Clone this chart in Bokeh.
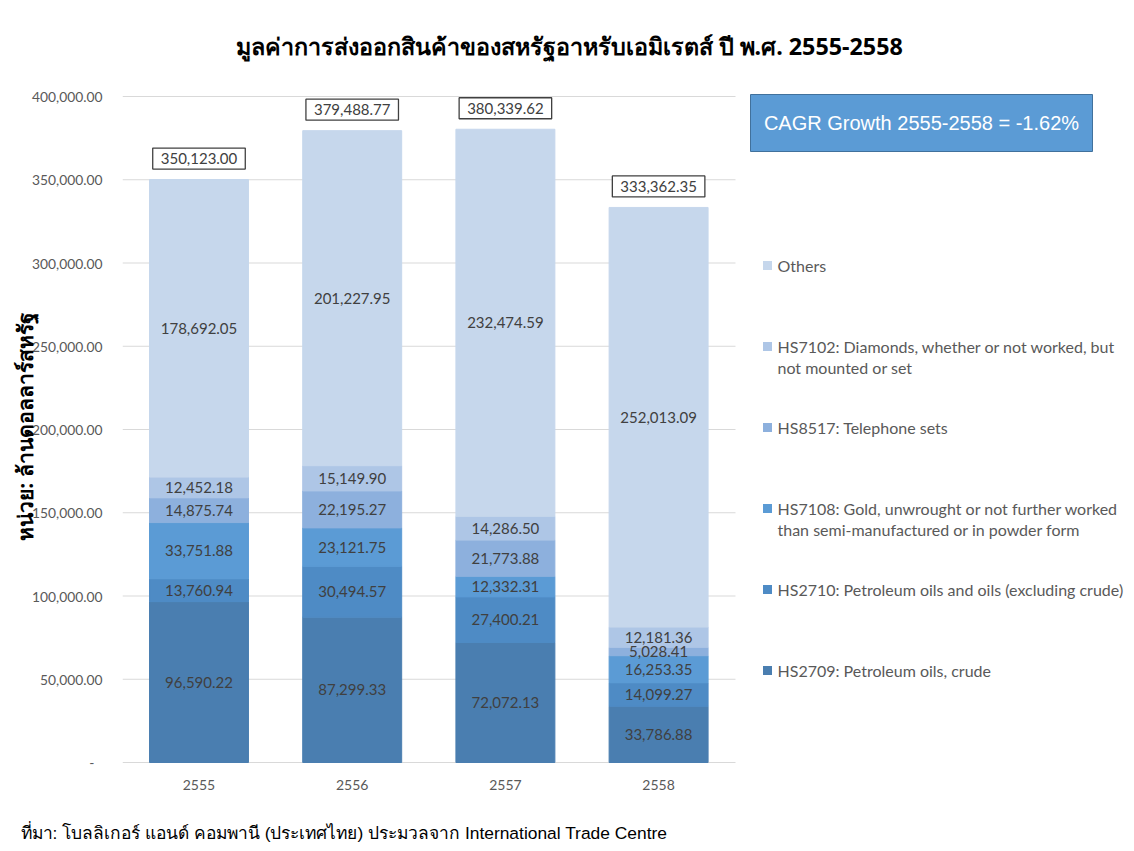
from bokeh.plotting import figure
from bokeh.models import Range1d, FixedTicker, NumeralTickFormatter, Title, ColumnDataSource
from bokeh.core.properties import value
from bokeh.embed import file_html
from bokeh.resources import INLINE

# ---------------- data ----------------
years = ["2555", "2556", "2557", "2558"]
series = [
    "HS2709: Petroleum oils, crude",
    "HS2710: Petroleum oils and oils (excluding crude)",
    "HS7108: Gold, unwrought or not further worked\nthan semi-manufactured or in powder form",
    "HS8517: Telephone sets",
    "HS7102: Diamonds, whether or not worked, but\nnot mounted or set",
    "Others",
]
hs2709 = [96590.22, 87299.33, 72072.13, 33786.88]
hs2710 = [13760.94, 30494.57, 27400.21, 14099.27]
hs7108 = [33751.88, 23121.75, 12332.31, 16253.35]
hs8517 = [14875.74, 22195.27, 21773.88, 5028.41]
hs7102 = [12452.18, 15149.90, 14286.50, 12181.36]
others = [178692.05, 201227.95, 232474.59, 252013.09]
totals = [350123.00, 379488.77, 380339.62, 333362.35]
y_ticks = [0, 50000, 100000, 150000, 200000, 250000, 300000, 350000, 400000]
title_text = "มูลค่าการส่งออกสินค้าของสหรัฐอาหรับเอมิเรตส์ ปี พ.ศ. 2555-2558"
y_label = "หน่วย: ล้านดอลลาร์สหรัฐ"
source_text = "ที่มา: โบลลิเกอร์ แอนด์ คอมพานี (ประเทศไทย) ประมวลจาก International Trade Centre"
cagr_text = "CAGR Growth 2555-2558 = -1.62%"

colors = ["#4A7EB0", "#4E8BC5", "#5B9BD5", "#8DB0DD", "#AEC6E6", "#C6D7EC"]
values = [hs2709, hs2710, hs7108, hs8517, hs7102, others]
keys = ["s0", "s1", "s2", "s3", "s4", "s5"]

# ---------------- layout helpers (page px -> data) ----------------
PX0, PXU = 198.5, 153.2
PY0, PYU = 762.0, 666.0 / 400000.0
def dx(px): return (px - PX0) / PXU
def dy(py): return (PY0 - py) / PYU

W, H = 1134, 851
FL, FR, FT, FB = 122, 1126, 88, 764
p = figure(width=W, height=H, output_backend="svg", toolbar_location=None,
           x_range=Range1d(dx(FL), dx(FR)), y_range=Range1d(dy(FB), dy(FT)),
           min_border_left=FL, min_border_right=W - FR, min_border_top=FT, min_border_bottom=H - FB)
p.outline_line_color = None
p.background_fill_color = "white"
p.border_fill_color = "white"
p.xgrid.visible = False
p.ygrid.visible = False

xs = list(range(len(years)))

# gridlines limited to plot area
p.segment(x0=[dx(122)] * len(y_ticks), x1=[dx(735)] * len(y_ticks), y0=y_ticks, y1=y_ticks,
          line_color="#D9D9D9", line_width=1)

# stacked bars
data = {"x": xs}
for k, v in zip(keys, values):
    data[k] = v
src = ColumnDataSource(data)
p.vbar_stack(keys, x="x", width=0.646, color=colors, source=src)

# segment labels
lx, ly, lt = [], [], []
for i in xs:
    base = 0.0
    for v in values:
        lx.append(i)
        ly.append(base + v[i] / 2)
        lt.append(f"{v[i]:,.2f}")
        base += v[i]
p.text(x=lx, y=ly, text=lt, text_align="center", text_baseline="middle",
       text_font=value("Lato"), text_font_size="15px", text_color="#404040")

# totals (boxed)
off = 21 / PYU
p.text(x=xs, y=[t + off for t in totals], text=[f"{t:,.2f}" for t in totals],
       text_align="center", text_baseline="middle", text_font=value("Lato"),
       text_font_size="15px", text_color="#404040",
       background_fill_color="white", border_line_color="#404040", border_line_width=1.3,
       padding=dict(left=8, right=8, top=5, bottom=5))

# CAGR box
p.quad(left=[dx(750)], right=[dx(1092)], top=[dy(94)], bottom=[dy(151)],
       fill_color="#5B9BD5", line_color="#41719C", line_width=1)
p.text(x=[dx(921)], y=[dy(122)], text=[cagr_text], text_align="center", text_baseline="middle",
       text_font=value("Liberation Sans"), text_font_size="20px", text_color="white")

# legend (Others on top)
order = list(range(len(series)))[::-1]
sq_x, sq_y, sq_c, tx, ty, tt = [], [], [], [], [], []
for k, i in enumerate(order):
    first = 265 + 81 * k
    nl = series[i].count("\n") + 1
    sq_x.append(dx(767)); sq_y.append(dy(first)); sq_c.append(colors[i])
    tx.append(dx(777)); ty.append(dy(first + 10.5 * (nl - 1))); tt.append(series[i])
p.scatter(x=sq_x, y=sq_y, marker="square", size=9, fill_color=sq_c, line_color=None)
p.text(x=tx, y=ty, text=tt, text_align="left", text_baseline="middle",
       text_font=value("Lato"), text_font_size="16px", text_color="#595959",
       text_line_height=1.1)

# axes
p.xaxis.ticker = FixedTicker(ticks=xs)
p.xaxis.major_label_overrides = {i: y for i, y in enumerate(years)}
p.xaxis.axis_line_color = None
p.xaxis.major_tick_line_color = None
p.xaxis.minor_tick_line_color = None
p.xaxis.major_label_standoff = 9
p.xaxis.major_label_text_font = "Lato"
p.xaxis.major_label_text_font_size = "14px"
p.xaxis.major_label_text_color = "#595959"

p.yaxis.ticker = FixedTicker(ticks=y_ticks)
p.yaxis.formatter = NumeralTickFormatter(format="0,0.00")
p.yaxis.major_label_overrides = {0: "-\u2007"}
p.yaxis.axis_line_color = None
p.yaxis.major_tick_line_color = None
p.yaxis.minor_tick_line_color = None
p.yaxis.major_label_standoff = 14
p.yaxis.major_label_text_font = "Lato"
p.yaxis.major_label_text_font_size = "13.8px"
p.yaxis.major_label_text_color = "#595959"
p.yaxis.axis_label = y_label
p.yaxis.axis_label_text_font = "Noto Sans"
p.yaxis.axis_label_text_font_style = "bold"
p.yaxis.axis_label_text_font_size = "21px"
p.yaxis.axis_label_text_color = "black"
p.yaxis.axis_label_standoff = -10

# title and source note
p.add_layout(Title(text=title_text, align="left", offset=113, standoff=54,
                   text_font="Noto Sans", text_font_style="bold", text_font_size="23.3px",
                   text_color="black"), "above")
p.add_layout(Title(text=source_text, align="left", offset=20 - FL, standoff=0,
                   padding=dict(left=0, right=0, top=28, bottom=4),
                   text_font="Liberation Sans", text_font_style="normal", text_font_size="17.4px",
                   text_color="black"), "below")

open("out.html", "w").write(file_html(p, INLINE))
